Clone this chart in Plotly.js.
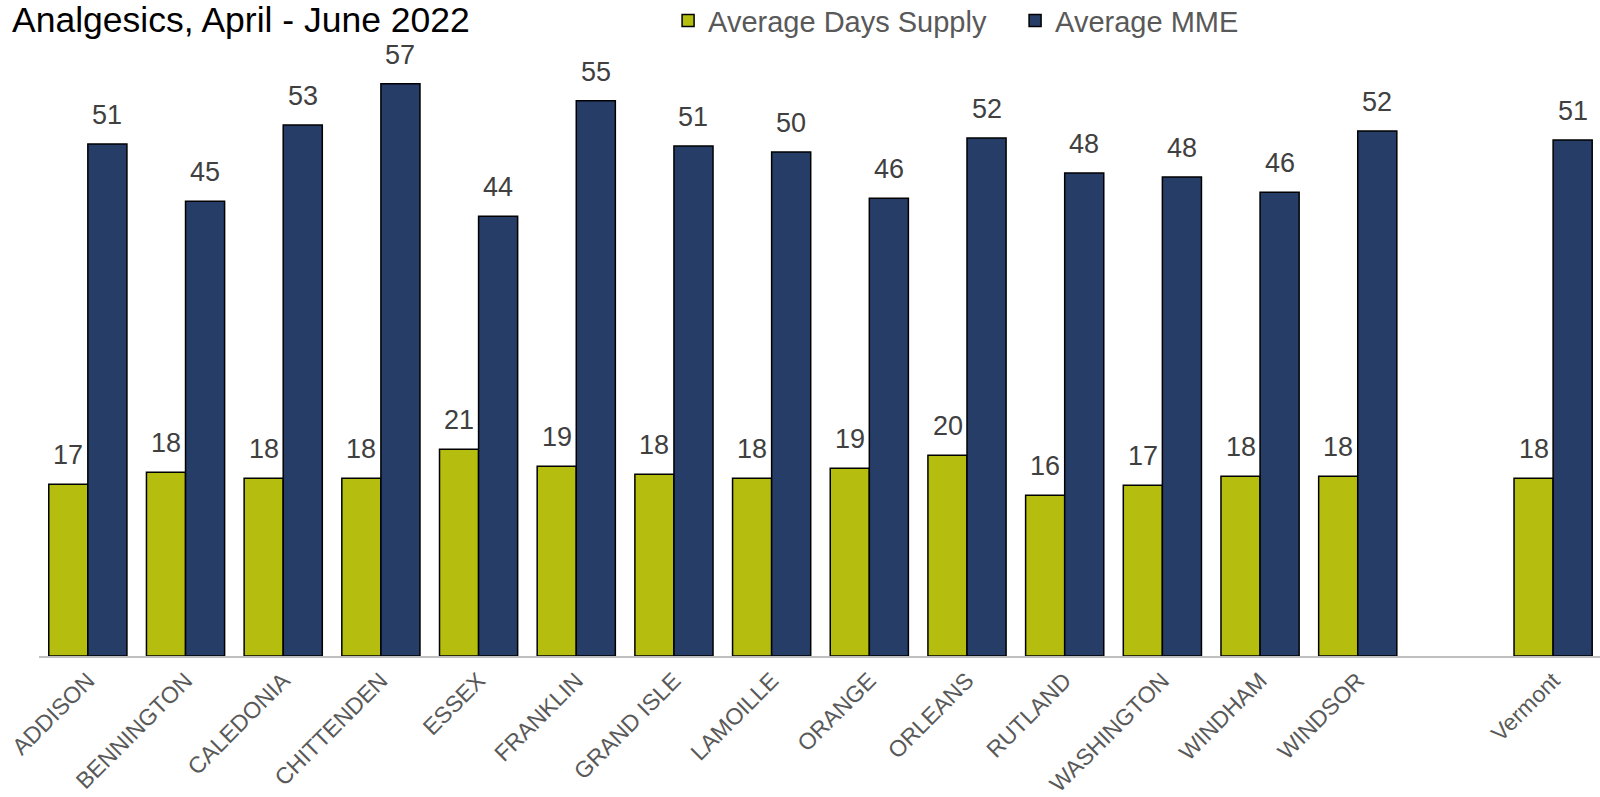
<!DOCTYPE html>
<html>
<head>
<meta charset="utf-8">
<script src="https://cdn.plot.ly/plotly-3.0.1.min.js"></script>
<style>
  html, body { margin: 0; padding: 0; background: #fff; }
  #chart { width: 1600px; height: 797px; }
</style>
</head>
<body>
<div id="chart"></div>
<script>
// counties, then an empty slot, then the state total
const comtes = ["ADDISON", "BENNINGTON", "CALEDONIA", "CHITTENDEN", "ESSEX", "FRANKLIN", "GRAND ISLE",
  "LAMOILLE", "ORANGE", "ORLEANS", "RUTLAND", "WASHINGTON", "WINDHAM", "WINDSOR", " ", "Vermont"];

const joursMoyens = [17.1, 18.3, 17.7, 17.7, 20.6, 18.9, 18.1, 17.7, 18.7, 20.0, 16.0, 17.0, 17.9, 17.9, null, 17.7];
const mmeMoyen = [51.0, 45.3, 52.9, 57.0, 43.8, 55.3, 50.8, 50.2, 45.6, 51.6, 48.1, 47.7, 46.2, 52.3, null, 51.4];

const vert = "#b5be0e";
const marine = "#263d68";

const police = "Liberation Sans, Arial, sans-serif";

const traces = [
  {
    type: "bar", name: "Average Days Supply", x: comtes, y: joursMoyens,
    marker: { color: vert, line: { color: "#000", width: 1.5 } },
    hoverinfo: "skip"
  },
  {
    type: "bar", name: "Average MME", x: comtes, y: mmeMoyen,
    marker: { color: marine, line: { color: "#000", width: 1.5 } },
    hoverinfo: "skip"
  }
];

// value labels above each bar
const etiquettes = [];
[[joursMoyens, -19.5], [mmeMoyen, 19.5]].forEach(([serie, dx]) => {
  serie.forEach((v, i) => {
    if (v === null) return;
    etiquettes.push({
      x: comtes[i], y: v, xref: "x", yref: "y",
      text: String(Math.round(v)), showarrow: false,
      xshift: dx, yanchor: "bottom", yshift: 12,
      font: { family: police, size: 27, color: "#404040" }
    });
  });
});

// title at the very top edge
etiquettes.push({
  text: "Analgesics, April - June 2022", showarrow: false,
  xref: "paper", yref: "paper", x: 0, y: 1, xanchor: "left", yanchor: "bottom",
  xshift: -29, yshift: -12,
  font: { family: police, size: 35.5, color: "#000" }
});

Plotly.newPlot("chart", traces, {
  width: 1600, height: 797,
  margin: { l: 39, r: 0, t: 30, b: 141, autoexpand: false },
  paper_bgcolor: "#fff", plot_bgcolor: "#fff",
  barmode: "group", bargap: 0.2, bargroupgap: 0,
  showlegend: true,
  legend: {
    orientation: "h", x: 0.403, xanchor: "left", y: 1.015, yanchor: "middle",
    entrywidth: 302, entrywidthmode: "pixels",
    font: { family: police, size: 29, color: "#595959" },
    bgcolor: "rgba(0,0,0,0)"
  },
  xaxis: {
    type: "category", range: [-0.5, 15.48], automargin: false,
    tickangle: -45, ticks: "", showgrid: false, zeroline: false,
    showline: true, linecolor: "#bfbfbf", linewidth: 2,
    tickfont: { family: police, size: 23, color: "#595959" }
  },
  yaxis: {
    range: [0, 62.35], visible: false, showgrid: false, zeroline: false
  },
  annotations: etiquettes
}, { displayModeBar: false, staticPlot: true });
</script>
</body>
</html>
